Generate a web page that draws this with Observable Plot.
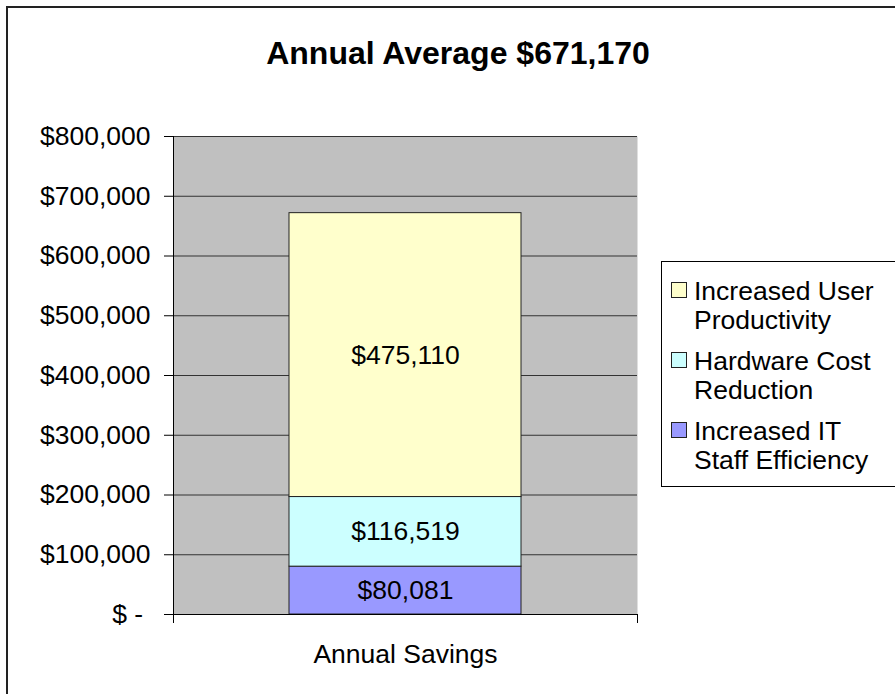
<!DOCTYPE html>
<html>
<head>
<meta charset="utf-8">
<script src="https://cdn.jsdelivr.net/npm/d3@7"></script>
<script src="https://cdn.jsdelivr.net/npm/@observablehq/plot@0.6"></script>
<style>
  html, body { margin: 0; padding: 0; background: #fff; overflow: hidden; }
  #chart { position: relative; width: 895px; height: 694px; }
</style>
</head>
<body>
<div id="chart"></div>
<script>
// ---- data ----
const title = "Annual Average $671,170";
const category = "Annual Savings";
const series = ["Increased IT Staff Efficiency", "Hardware Cost Reduction", "Increased User Productivity"];
const values = [80081, 116519, 475110];
const colors = ["#9999FF", "#CCFFFF", "#FFFFCC"];
const yTicks = [0, 100000, 200000, 300000, 400000, 500000, 600000, 700000, 800000];
const legendLines = [["Increased User", "Productivity"], ["Hardware Cost", "Reduction"], ["Increased IT", "Staff Efficiency"]];

const data = series.map((s, i) => ({cat: category, series: s, value: values[i]}));
const fmt = d3.format(",");
const font = "'Liberation Sans', Arial, Helvetica, sans-serif";
const fs = 26.5;
const tickFormat = d => d === 0 ? "$\u00a0-\u00a0" : "$" + fmt(d);

function edges(index, scales, values, dims) {
  const g = d3.create("svg:g").attr("stroke", "#000").attr("stroke-width", 1);
  const x0 = dims.marginLeft, x1 = dims.width - dims.marginRight;
  const y0 = dims.marginTop, y1 = dims.height - dims.marginBottom;
  g.append("line").attr("x1", x0 + 0.5).attr("x2", x0 + 0.5).attr("y1", y0).attr("y2", y1 + 9);
  g.append("line").attr("x1", x1 + 0.5).attr("x2", x1 + 0.5).attr("y1", y1).attr("y2", y1 + 9);
  g.append("line").attr("x1", x0).attr("x2", x1).attr("y1", y1 + 0.5).attr("y2", y1 + 0.5);
  return g.node();
}

const chart = Plot.plot({
  width: 895, height: 694,
  marginLeft: 173, marginRight: 258, marginTop: 136, marginBottom: 80,
  style: {fontFamily: font, fontSize: fs + "px", background: "transparent", color: "#000"},
  x: {domain: [category], paddingInner: 0, paddingOuter: 0.5, label: null},
  y: {domain: [0, 800000], label: null},
  color: {domain: series, range: colors},
  marks: [
    Plot.frame({fill: "#C0C0C0", stroke: "none"}),
    Plot.ruleY(yTicks, {stroke: "#333", strokeWidth: 1}),
    Plot.barY(data, {x: "cat", y: "value", fill: "series", stroke: "#222", strokeWidth: 1}),
    Plot.text(data, Plot.stackY({x: "cat", y: "value", text: d => "$" + fmt(d.value), fontSize: fs, fill: "#000"})),
    Plot.axisY({ticks: yTicks, tickFormat, tickSize: 9, tickPadding: 14, fontSize: fs}),
    Plot.axisX({tickSize: 0, tickPadding: 30, fontSize: fs}),
    edges
  ]
});

const svg = d3.select(chart);
// outer chart frame (continues beyond the picture)
svg.append("path").attr("d", "M7,700V7H900").attr("fill", "none").attr("stroke", "#222").attr("stroke-width", 2);
// title
svg.append("text").attr("x", 458).attr("y", 64).attr("text-anchor", "middle")
  .attr("font-family", font).attr("font-size", 32).attr("font-weight", "bold").attr("fill", "#000").text(title);
// legend
const lg = svg.append("g").attr("font-family", font).attr("font-size", fs).attr("fill", "#000").attr("text-anchor", "start");
lg.append("rect").attr("x", 661.5).attr("y", 261.5).attr("width", 300).attr("height", 225)
  .attr("fill", "#fff").attr("stroke", "#000").attr("stroke-width", 1);
const legendOrder = series.slice().reverse();
legendOrder.forEach((s, i) => {
  const c = 290 + i * 70;
  lg.append("rect").attr("x", 671.5).attr("y", c - 7.5).attr("width", 15).attr("height", 15)
    .attr("fill", colors[series.indexOf(s)]).attr("stroke", "#222").attr("stroke-width", 1);
  legendLines[i].forEach((line, j) => {
    lg.append("text").attr("x", 694).attr("y", c + 9.5 + j * 29.5).attr("text-anchor", "start").text(line);
  });
});

document.getElementById("chart").appendChild(chart);
</script>
</body>
</html>
